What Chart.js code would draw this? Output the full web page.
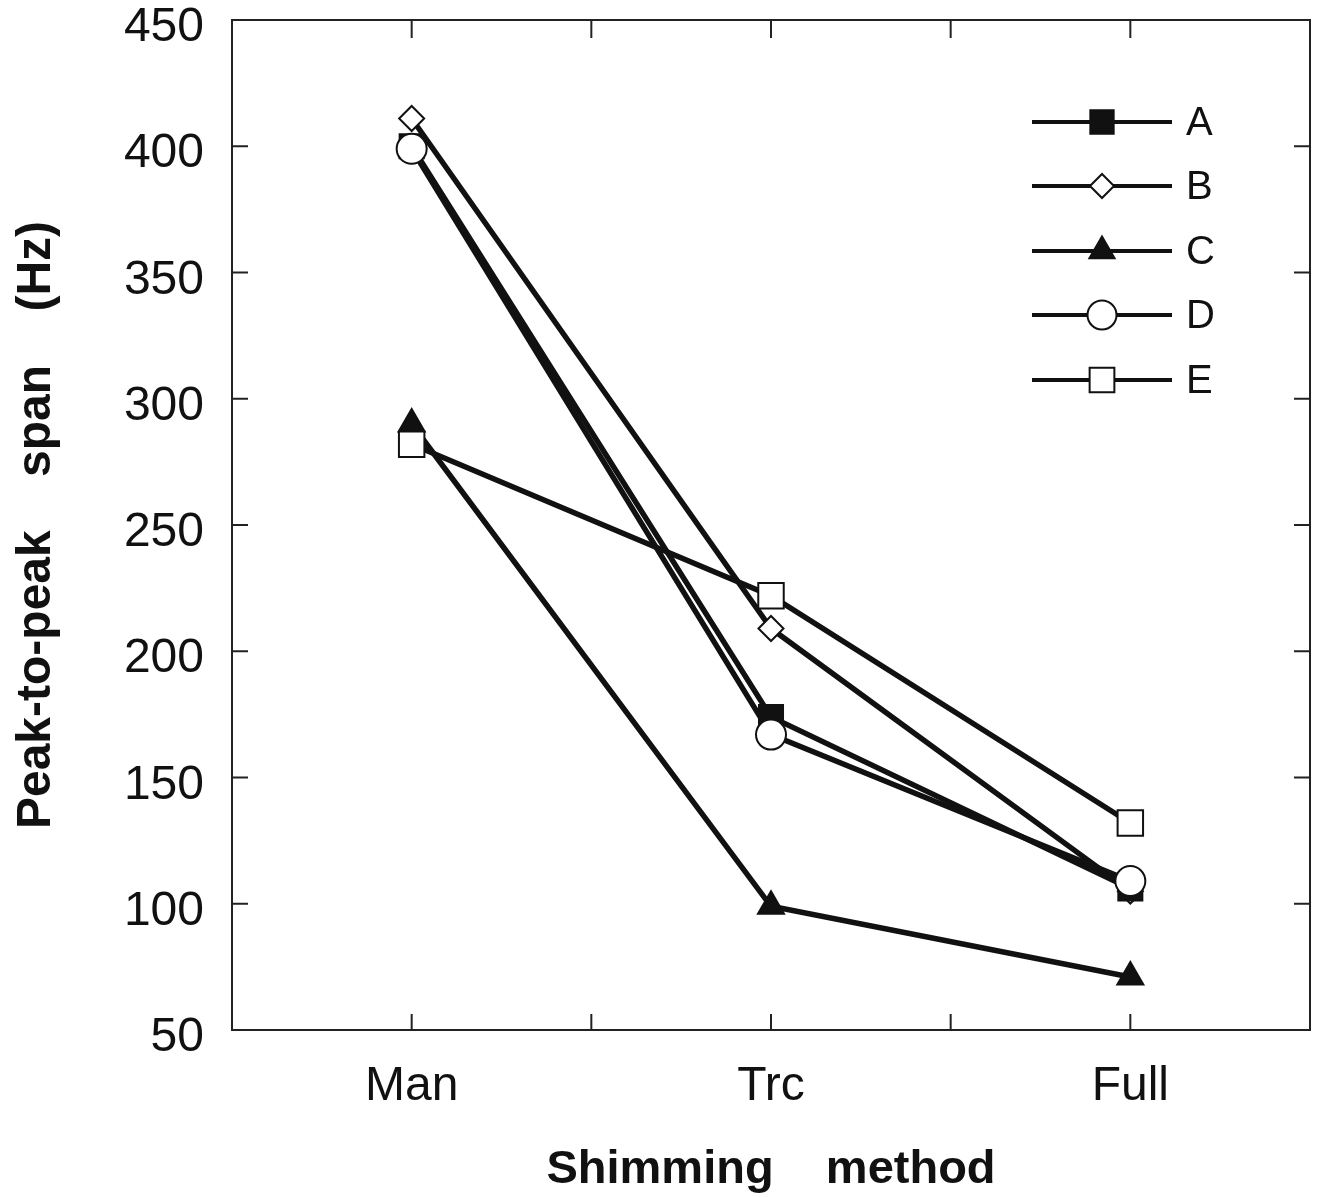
<!DOCTYPE html>
<html>
<head>
<meta charset="utf-8">
<script src="https://cdn.jsdelivr.net/npm/chart.js@4/dist/chart.umd.min.js"></script>
<style>
  html, body { margin: 0; background: #fff; overflow: hidden; }
  #wrap { width: 1318px; height: 1198px; }
  canvas { display: block; }
</style>
</head>
<body>
<div id="wrap"><canvas id="shim-chart"></canvas></div>
<script>
const methods = ["Man", "Trc", "Full"];
const series_names = ["A", "B", "C", "D", "E"];
const a_vals = [400, 174, 106];
const b_vals = [411, 209, 105];
const c_vals = [290, 99, 71];
const d_vals = [399, 167, 109];
const e_vals = [282, 222, 132];
const y_ticks = [50, 100, 150, 200, 250, 300, 350, 400, 450];

const ink = "#111";
const FONT = "'Liberation Sans', Arial, Helvetica, sans-serif";

// marker look for each series, same order as series_names
const markers = [
  { style: "rect", radius: 17, fill: ink },
  { style: "rectRot", radius: 12.5, fill: "#fff" },
  { style: "triangle", radius: 15, fill: ink },
  { style: "circle", radius: 15, fill: "#fff" },
  { style: "rect", radius: 18, fill: "#fff" }
];
const draw_order = [3, 4, 5, 1, 2];
const all_vals = [a_vals, b_vals, c_vals, d_vals, e_vals];

function toPoints(vals) {
  return vals.map((v, i) => ({ x: i + 1, y: v }));
}

const datasets = series_names.map((name, i) => ({
  label: name,
  data: toPoints(all_vals[i]),
  borderColor: ink,
  borderWidth: 5.5,
  tension: 0,
  pointStyle: markers[i].style,
  pointRadius: markers[i].radius,
  pointHoverRadius: markers[i].radius,
  pointBackgroundColor: markers[i].fill,
  pointBorderColor: ink,
  pointBorderWidth: 2,
  order: draw_order[i]
}));

// frame with inward ticks on all four sides
const framePlugin = {
  id: "frame",
  beforeDatasetsDraw(chart) {
    const { ctx, chartArea: ca, scales } = chart;
    ctx.save();
    ctx.strokeStyle = "#222";
    ctx.lineWidth = 2;
    ctx.strokeRect(ca.left, ca.top, ca.right - ca.left, ca.bottom - ca.top);
    ctx.beginPath();
    scales.x.ticks.forEach(t => {
      if (t.value <= scales.x.min || t.value >= scales.x.max) return;
      const px = scales.x.getPixelForValue(t.value);
      ctx.moveTo(px, ca.bottom); ctx.lineTo(px, ca.bottom - 16);
      ctx.moveTo(px, ca.top); ctx.lineTo(px, ca.top + 18);
    });
    scales.y.ticks.forEach(t => {
      if (t.value <= scales.y.min || t.value >= scales.y.max) return;
      const py = scales.y.getPixelForValue(t.value);
      ctx.moveTo(ca.left, py); ctx.lineTo(ca.left + 16, py);
      ctx.moveTo(ca.right, py); ctx.lineTo(ca.right - 16, py);
    });
    ctx.stroke();
    ctx.restore();
  }
};

// legend: short line with the marker in its middle, letter on the right
const legendPlugin = {
  id: "lineLegend",
  afterDraw(chart) {
    const { ctx } = chart;
    const x0 = 1032, x1 = 1172, xm = 1102, xt = 1186;
    const rows = [122, 186, 251, 315, 380];
    ctx.save();
    series_names.forEach((name, i) => {
      const y = rows[i];
      ctx.strokeStyle = ink;
      ctx.lineWidth = 4;
      ctx.beginPath();
      ctx.moveTo(x0, y); ctx.lineTo(x1, y);
      ctx.stroke();
      ctx.fillStyle = markers[i].fill;
      ctx.strokeStyle = ink;
      ctx.lineWidth = 2;
      Chart.helpers.drawPoint(ctx, {
        pointStyle: markers[i].style,
        radius: markers[i].radius - 0.5,
        rotation: 0,
        borderWidth: 2
      }, xm, y);
      ctx.fillStyle = ink;
      ctx.font = "40px " + FONT;
      ctx.textAlign = "left";
      ctx.textBaseline = "middle";
      ctx.fillText(name, xt, y + 2);
    });
    ctx.restore();
  }
};

new Chart(document.getElementById("shim-chart"), {
  type: "line",
  data: { datasets: datasets },
  plugins: [framePlugin, legendPlugin],
  options: {
    responsive: true,
    maintainAspectRatio: false,
    animation: false,
    layout: { autoPadding: false, padding: { top: 20, right: 8, left: 0, bottom: 0 } },
    plugins: {
      legend: { display: false },
      tooltip: { enabled: false }
    },
    scales: {
      x: {
        type: "linear",
        min: 0.5,
        max: 3.5,
        afterFit: scale => {
          scale.height = 168;
          scale.paddingLeft = 0;
          scale.paddingRight = 0;
        },
        grid: { display: false },
        border: { display: false },
        ticks: {
          stepSize: 0.5,
          autoSkip: false,
          maxRotation: 0,
          padding: 20,
          color: ink,
          font: { family: FONT, size: 48 },
          callback: v => Number.isInteger(v) && methods[v - 1] ? methods[v - 1] : ""
        },
        title: {
          display: true,
          text: "Shimming    method",
          color: ink,
          font: { family: FONT, size: 47, weight: "bold" },
          padding: { top: 0, bottom: 0 }
        }
      },
      y: {
        min: 50,
        max: 450,
        afterFit: scale => {
          scale.width = 232;
          scale.paddingTop = 0;
          scale.paddingBottom = 0;
        },
        afterBuildTicks: scale => { scale.ticks = y_ticks.map(v => ({ value: v })); },
        grid: { display: false },
        border: { display: false },
        ticks: {
          padding: 20,
          labelOffset: 8,
          color: ink,
          font: { family: FONT, size: 48 }
        },
        title: {
          display: true,
          text: "Peak-to-peak    span    (Hz)",
          color: ink,
          font: { family: FONT, size: 48, weight: "bold" },
          padding: { top: 8, bottom: 0 }
        }
      }
    }
  }
});
</script>
</body>
</html>
